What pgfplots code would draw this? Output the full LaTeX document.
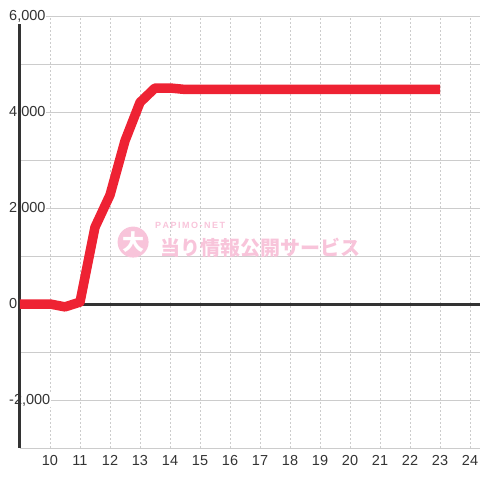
\documentclass[border=0pt]{standalone}
\usepackage{pgfplots}
\pgfplotsset{compat=1.18}
\usepackage{fontspec}
\setmainfont{Liberation Sans}
\newfontfamily\cjk{Noto Sans CJK JP}
\definecolor{LineRed}{HTML}{EE2233}
\definecolor{AxisDark}{HTML}{333333}
\definecolor{GridGray}{HTML}{CCCCCC}
\definecolor{MarkPink}{HTML}{F8C4DA}

\begin{document}
\begin{tikzpicture}
    \useasboundingbox (-20pt,-32pt) rectangle (460pt,448pt);
    \begin{axis}[
        scale only axis,
        width=460pt,
        height=432pt,
        xmin=9, xmax=24.333,
        ymin=-3000, ymax=6000,
        axis line style={draw=none},
        xtick={10,...,24},
        ytick={-2000,0,2000,4000,6000},
        minor ytick={-3000,-1000,1000,3000,5000},
        xmajorgrids=true,
        ymajorgrids=true,
        yminorgrids=true,
        major x grid style={GridGray, dash pattern=on 2pt off 2pt, line width=0.8pt},
        major y grid style={GridGray, line width=0.8pt},
        minor y grid style={GridGray, line width=0.8pt},
        major tick length=0pt,
        minor tick length=0pt,
        tick style={draw=none},
        scaled y ticks=false,
        /pgf/number format/assume math mode=true,
        yticklabel={\pgfmathprintnumber[fixed, 1000 sep={,}]{\tick}},
        yticklabel style={anchor=west, xshift=-12pt, fill=white, inner sep=1pt,
            text=AxisDark, font=\fontsize{14.5}{14.5}\selectfont},
        xticklabel style={yshift=-4pt, text=AxisDark, font=\fontsize{14.5}{14.5}\selectfont},
        clip=false,
    ]

    % watermark
    \node[circle, fill=MarkPink, minimum size=31pt, inner sep=0pt, text=white,
        font=\cjk\bfseries\fontsize{22}{22}\selectfont] at (axis cs:12.77,1290) {大};
    \node[text=MarkPink, font=\bfseries\fontsize{9}{9}\selectfont] at (axis cs:14.67,1640) {P\,A\,P\,I\,M\,O\,-\,N\,E\,T};
    \node[text=MarkPink, font=\cjk\bfseries\fontsize{20}{20}\selectfont] at (axis cs:17.0,1180) {当り情報公開サービス};

    % axis lines
    \draw[AxisDark, line width=3pt] (axis cs:9,-3000) -- (axis cs:9,5830);
    \draw[GridGray, line width=0.8pt] (axis cs:9,-3000) -- (axis cs:24.333,-3000);
    \draw[AxisDark, line width=3pt] (axis cs:9,0) -- (axis cs:24.333,0);

    \addplot[color=LineRed, line width=9.5pt, line join=round]
    coordinates {
        (9,0) (10,0) (10.5,-60) (11,40) (11.5,1600) (12,2270) (12.5,3400)
        (13,4200) (13.5,4500) (14,4500) (14.5,4470) (15,4470) (16,4470)
        (17,4470) (18,4470) (19,4470) (20,4470) (21,4470) (22,4470) (23,4470)
    };

    \end{axis}
\end{tikzpicture}
\end{document}
